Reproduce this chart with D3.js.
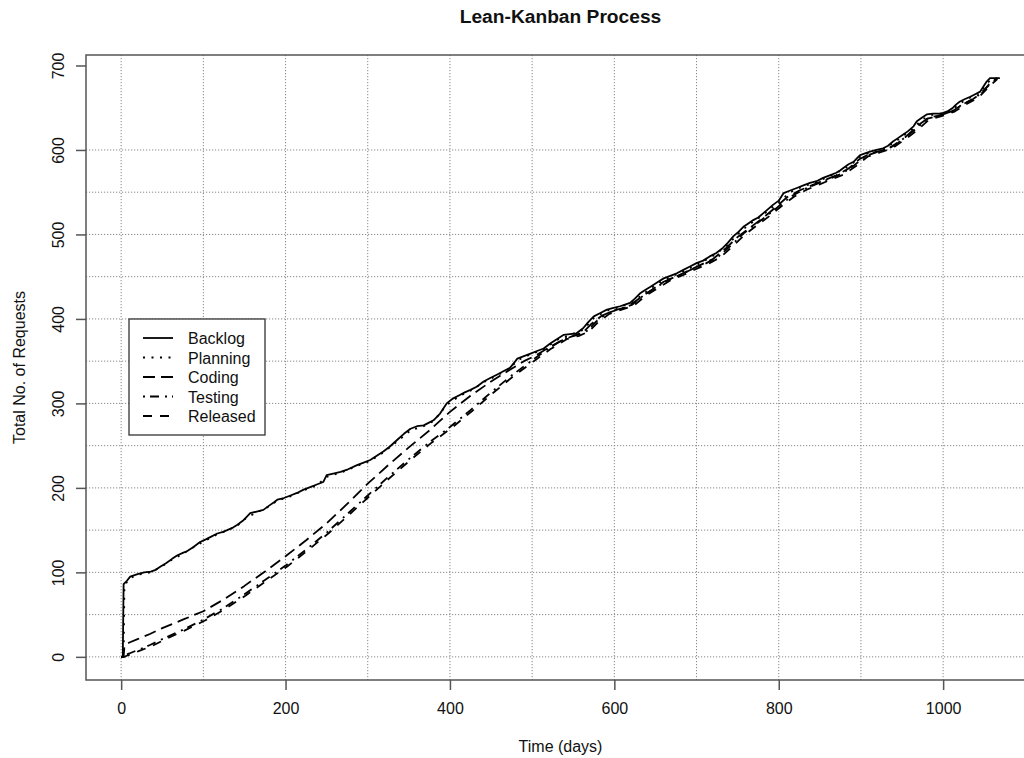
<!DOCTYPE html>
<html>
<head>
<meta charset="utf-8">
<script src="https://cdn.jsdelivr.net/npm/d3@7"></script>
<style>
body { margin: 0; background: #fff; }
text { font-family: "Liberation Sans", Arial, Helvetica, sans-serif; fill: #111; }
</style>
</head>
<body>
<script>
"use strict";

//cumulative counts per stage, [day, total requests]
const backlog = [[0,0],[2,0],[3,86],[7,90],[11,95],[20,98],[28,100],[36,101],[42,103],[48,107],[55,111],[62,116],[68,120],[75,123],[80,125],[88,130],[96,136],[103,139],[109,142],[117,146],[124,148],[129,150],[136,153],[141,156],[148,161],[153,166],[157,170],[165,172],[173,174],[180,179],[186,183],[190,186],[198,188],[206,191],[214,194],[222,198],[230,201],[238,204],[246,207],[250,215],[258,217],[267,219],[276,222],[287,227],[295,230],[303,233],[311,238],[319,243],[327,249],[336,257],[344,264],[352,270],[360,273],[368,274],[374,277],[380,280],[388,288],[396,300],[404,306],[412,310],[418,313],[425,316],[433,320],[441,326],[449,330],[457,334],[465,338],[473,342],[478,348],[482,353],[490,356],[498,359],[506,362],[514,365],[522,371],[530,376],[538,381],[546,382],[554,383],[562,389],[568,396],[575,403],[583,407],[591,411],[599,413],[607,415],[613,417],[619,419],[625,424],[631,430],[637,434],[644,438],[652,443],[660,448],[668,451],[676,454],[684,458],[692,462],[700,466],[708,469],[716,474],[724,478],[732,484],[738,490],[745,498],[751,503],[757,509],[763,513],[769,517],[775,520],[781,525],[787,530],[793,535],[800,540],[806,549],[814,552],[822,555],[830,558],[838,561],[846,563],[854,567],[862,570],[870,573],[875,576],[879,579],[885,583],[891,586],[895,590],[899,594],[905,596],[911,598],[919,600],[927,602],[933,605],[939,610],[945,614],[951,618],[957,622],[964,628],[968,634],[974,638],[980,642],[988,643],[996,643],[1000,644],[1006,646],[1012,650],[1016,654],[1020,657],[1026,660],[1033,663],[1039,666],[1045,669],[1049,675],[1053,681],[1057,685],[1069,685]];

const planning = [[0,0],[3,0],[4,84],[10,93],[20,97],[35,100],[48,106],[62,115],[75,122],[90,131],[103,138],[117,145],[130,150],[141,155],[153,165],[165,171],[180,178],[190,185],[206,190],[222,197],[238,203],[250,213],[267,218],[287,226],[303,232],[319,242],[336,255],[352,268],[368,273],[380,279],[396,298],[412,309],[425,315],[441,325],[457,333],[473,341],[482,351],[498,358],[514,364],[530,375],[546,381],[562,387],[575,401],[591,410],[607,414],[625,422],[644,436],[660,446],[676,453],[692,460],[708,468],[724,477],[738,488],[751,501],[763,511],[775,519],[787,528],[800,538],[814,550],[830,557],[846,562],[862,569],[879,577],[891,585],[899,592],[911,597],[927,601],[939,608],[951,616],[964,626],[974,636],[988,642],[1000,643],[1012,648],[1020,655],[1033,662],[1045,668],[1053,679],[1060,684],[1066,685]];

const coding = [[0,0],[3,0],[4,13],[10,17],[20,21],[35,27],[50,34],[75,44],[100,54],[125,68],[150,84],[175,101],[200,119],[225,138],[250,158],[275,181],[300,205],[325,227],[350,248],[375,268],[400,290],[425,309],[450,326],[475,341],[490,350],[505,357],[520,366],[535,374],[550,380],[562,384],[572,394],[585,404],[600,410],[615,414],[630,424],[645,434],[660,444],[675,450],[690,457],[705,464],[720,471],[735,483],[750,497],[765,508],[780,519],[795,531],[810,544],[825,552],[840,558],[855,564],[870,570],[885,578],[898,589],[912,596],[928,600],[942,606],[955,616],[968,628],[982,638],[996,641],[1010,645],[1022,653],[1036,660],[1048,668],[1056,678],[1064,684]];

const testing = [[0,0],[3,0],[4,2],[10,4],[20,8],[35,14],[50,21],[75,32],[100,44],[125,58],[150,74],[175,91],[200,108],[225,127],[250,147],[275,169],[300,191],[325,213],[350,234],[375,254],[400,272],[425,292],[450,313],[475,333],[500,351],[520,365],[540,377],[555,381],[567,386],[578,397],[592,407],[607,412],[622,417],[637,429],[652,438],[667,447],[682,453],[697,460],[712,466],[727,474],[742,487],[757,501],[772,512],[787,523],[802,535],[817,546],[832,554],[847,560],[862,566],[877,572],[892,582],[906,593],[921,598],[936,603],[951,613],[966,624],[981,637],[996,641],[1011,646],[1026,655],[1041,663],[1055,676],[1064,683]];

const released = [[0,0],[4,0],[6,1],[12,3],[22,7],[38,13],[52,20],[77,31],[102,43],[127,57],[152,73],[177,90],[202,107],[227,126],[252,146],[277,168],[302,190],[327,212],[352,233],[377,253],[402,271],[427,291],[452,312],[477,332],[502,350],[522,364],[542,376],[557,380],[569,385],[580,396],[594,406],[609,411],[624,416],[639,428],[654,437],[669,446],[684,452],[699,459],[714,465],[729,473],[744,486],[759,500],[774,511],[789,522],[804,534],[819,545],[834,553],[849,559],[864,565],[879,571],[894,581],[908,592],[923,597],[938,602],[953,612],[968,623],[983,636],[998,640],[1013,645],[1028,654],[1043,662],[1057,676],[1066,684]];

const seriesNames = ["Backlog", "Planning", "Coding", "Testing", "Released"];
const xTicks = [0, 200, 400, 600, 800, 1000];
const yTicks = [0, 100, 200, 300, 400, 500, 600, 700];
const xGrid = [0, 100, 200, 300, 400, 500, 600, 700, 800, 900, 1000];
const yGrid = [0, 50, 100, 150, 200, 250, 300, 350, 400, 450, 500, 550, 600];

(function()
{
	let width = 1024, height = 758;
	let left = 86, right = 1035, top = 55, bottom = 680;

	let allSeries = [backlog, planning, coding, testing, released];
	//R style dashes: solid, dotted, longdash, dotdash, dashed
	let dashes = [null, "2,6.5", "12,6", "2,5,9,6", "9,8"];

	//4% padding on both ends, like base graphics
	let all = [].concat(...allSeries);
	let xExt = d3.extent(all, function(d) { return d[0]; });
	let yExt = d3.extent(all, function(d) { return d[1]; });
	let xPad = (xExt[1] - xExt[0]) * 0.04;
	let yPad = (yExt[1] - yExt[0]) * 0.04;
	let x = d3.scaleLinear().domain([xExt[0] - xPad, xExt[1] + xPad]).range([left, right]);
	let y = d3.scaleLinear().domain([yExt[0] - yPad, yExt[1] + yPad]).range([bottom, top]);

	let svg = d3.select("body").append("svg")
		.attr("width", width)
		.attr("height", height);
	svg.append("rect")
		.attr("width", width)
		.attr("height", height)
		.attr("fill", "white");

	//grid
	let grid = svg.append("g")
		.attr("stroke", "#888")
		.attr("stroke-width", 1)
		.attr("stroke-dasharray", "1.2,1.8");
	for (let v of xGrid)
	{
		grid.append("line")
			.attr("x1", x(v)).attr("x2", x(v))
			.attr("y1", top).attr("y2", bottom);
	}
	for (let v of yGrid)
	{
		grid.append("line")
			.attr("x1", left).attr("x2", right)
			.attr("y1", y(v)).attr("y2", y(v));
	}

	//series lines
	let path_func = d3.line()
		.x(function(d) { return x(d[0]); })
		.y(function(d) { return y(d[1]); });
	let lines = svg.append("g")
		.attr("fill", "none")
		.attr("stroke", "#000")
		.attr("stroke-width", 1.8)
		.attr("stroke-linejoin", "round");
	for (let i = allSeries.length - 1; i >= 0; --i)
	{
		let p = lines.append("path")
			.attr("d", path_func(allSeries[i]));
		if (dashes[i]) p.attr("stroke-dasharray", dashes[i]);
	}

	//box
	svg.append("rect")
		.attr("x", left).attr("y", top)
		.attr("width", right - left).attr("height", bottom - top)
		.attr("fill", "none")
		.attr("stroke", "#555")
		.attr("stroke-width", 1.5);

	//axes
	let xAxis = svg.append("g")
		.attr("transform", "translate(0," + bottom + ")")
		.call(d3.axisBottom(x).tickValues(xTicks).tickSize(10).tickFormat(d3.format("d")));
	xAxis.select(".domain").remove();
	xAxis.selectAll(".tick line").attr("stroke", "#555").attr("stroke-width", 1.5);
	xAxis.selectAll(".tick text")
		.attr("y", 34).attr("dy", 0)
		.style("font-size", "16px")
		.style("font-family", "Liberation Sans, Arial, sans-serif")
		.attr("fill", "#111");

	let yAxis = svg.append("g")
		.attr("transform", "translate(" + left + ",0)")
		.call(d3.axisLeft(y).tickValues(yTicks).tickSize(10).tickFormat(d3.format("d")));
	yAxis.select(".domain").remove();
	yAxis.selectAll(".tick line").attr("stroke", "#555").attr("stroke-width", 1.5);
	yAxis.selectAll(".tick text")
		.attr("transform", "rotate(-90)")
		.attr("x", 0).attr("y", -22).attr("dy", 0)
		.attr("text-anchor", "middle")
		.style("font-size", "16px")
		.style("font-family", "Liberation Sans, Arial, sans-serif")
		.attr("fill", "#111");

	//titles
	let cx = (left + right) / 2;
	svg.append("text")
		.attr("x", cx).attr("y", 23)
		.attr("text-anchor", "middle")
		.style("font-size", "19.2px")
		.style("font-weight", "bold")
		.text("Lean-Kanban Process");
	svg.append("text")
		.attr("x", cx).attr("y", 752)
		.attr("text-anchor", "middle")
		.style("font-size", "16px")
		.text("Time (days)");
	svg.append("text")
		.attr("transform", "translate(25," + (top + bottom) / 2 + ") rotate(-90)")
		.attr("text-anchor", "middle")
		.style("font-size", "16px")
		.text("Total No. of Requests");

	//legend
	let legend = svg.append("g").attr("transform", "translate(129,319)");
	legend.append("rect")
		.attr("width", 136).attr("height", 116)
		.attr("fill", "white")
		.attr("stroke", "#333")
		.attr("stroke-width", 1.3);
	seriesNames.forEach(function(name, i)
	{
		let ry = 19 + i * 19.5;
		let l = legend.append("line")
			.attr("x1", 14).attr("x2", 44)
			.attr("y1", ry).attr("y2", ry)
			.attr("stroke", "#000")
			.attr("stroke-width", 1.8);
		if (dashes[i]) l.attr("stroke-dasharray", dashes[i]);
		legend.append("text")
			.attr("x", 59).attr("y", ry + 6)
			.style("font-size", "16px")
			.text(name);
	});
})();
</script>
</body>
</html>
